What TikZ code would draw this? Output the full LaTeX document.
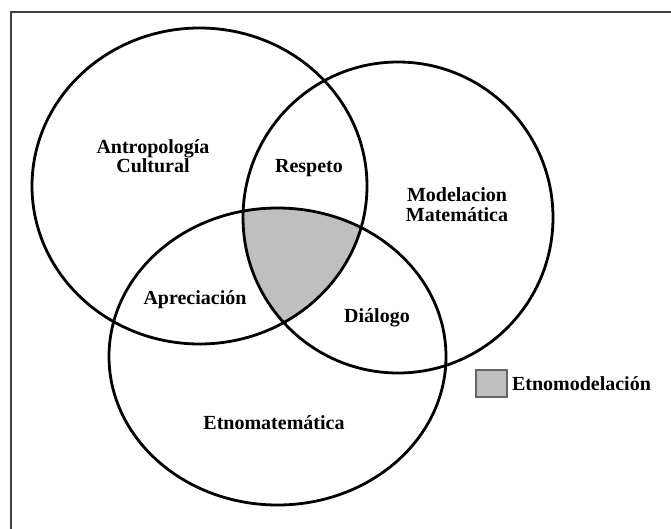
\documentclass[tikz,border=0pt]{standalone}
\usepackage{fontspec}
\setmainfont{Liberation Serif}
\usetikzlibrary{positioning}

\tikzstyle{circulo} = [draw=black, line width=2.8pt]
\tikzstyle{etiqueta} = [font=\fontsize{20}{19.5}\selectfont\bfseries,
align=center,
inner sep=0pt,
text=black]
\tikzstyle{marco} = [draw=black!75, line width=2pt]
\tikzstyle{muestra} = [rectangle,
minimum width=31pt,
minimum height=27pt,
draw=black!60,
line width=1.6pt,
fill=black!25]

\begin{document}
\begin{tikzpicture}[x=1pt, y=-1pt]
\useasboundingbox (0,0) rectangle (671,529);

% Frame
\draw [marco] (11,540) -- (11,12) -- (680,12);

% Shaded common part
\begin{scope}
\clip (199.5,186) ellipse [x radius=167.5, y radius=158];
\clip (398,217.5) ellipse [x radius=155, y radius=155.5];
\fill [black!25] (277.5,356.5) ellipse [x radius=168.5, y radius=148.5];
\end{scope}

% Circles
\draw [circulo] (199.5,186) ellipse [x radius=167.5, y radius=158];
\draw [circulo] (398,217.5) ellipse [x radius=155, y radius=155.5];
\draw [circulo] (277.5,356.5) ellipse [x radius=168.5, y radius=148.5];

% Labels
\node (antro) [etiqueta] at (153,156) {Antropología\\Cultural};
\node (respeto) [etiqueta] at (309,168) {Respeto};
\node (modela) [etiqueta] at (457,204.5) {Modelacion\\Matemática};
\node (aprecia) [etiqueta] at (195,300) {Apreciación};
\node (dialogo) [etiqueta] at (377,318) {Diálogo};
\node (etnomat) [etiqueta] at (274,423) {Etnomatemática};

% Legend
\node (muestra) [muestra] at (491.5,383.5) {};
\node (leyenda) [etiqueta, right=4pt of muestra] {Etnomodelación};

\end{tikzpicture}
\end{document}
